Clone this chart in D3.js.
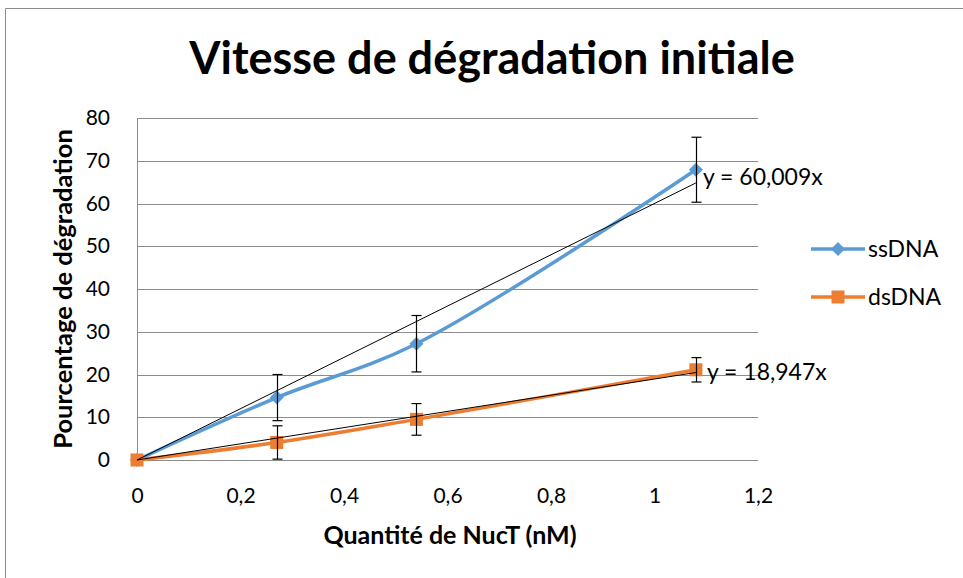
<!DOCTYPE html>
<html>
<head>
<meta charset="utf-8">
<script src="https://cdn.jsdelivr.net/npm/d3@7"></script>
<style>
  html, body { margin: 0; padding: 0; background: #fff; }
  svg { display: block; }
  text { font-family: Lato, "Open Sans", sans-serif; fill: #000; }
</style>
</head>
<body>
<svg id="chart" width="963" height="578"></svg>
<script>
// Quantité de NucT (nM)
const doses = [0, 0.27, 0.54, 1.08];
// Pourcentage de dégradation, moyenne et écart-type
const ssDNA = [0, 14.6, 27.2, 67.9];
const ssDNAErr = [0, 5.4, 6.6, 7.6];
const dsDNA = [0, 4.1, 9.5, 21.1];
const dsDNAErr = [0, 3.9, 3.7, 2.85];
// Pentes des régressions linéaires passant par l'origine
const slopes = [60.009, 18.947];
const slopeLabels = ["y = 60,009x", "y = 18,947x"];
const seriesNames = ["ssDNA", "dsDNA"];
const colors = ["#5B9BD5", "#ED7D31"];
const xTicks = [0, 0.2, 0.4, 0.6, 0.8, 1, 1.2];
const yTicks = [0, 10, 20, 30, 40, 50, 60, 70, 80];

const svg = d3.select("#chart");
const plot = { left: 137, right: 758, top: 118, bottom: 460 };

const x = d3.scaleLinear().domain([0, 1.2]).range([plot.left, plot.right]);
const y = d3.scaleLinear().domain([0, 80]).range([plot.bottom, plot.top]);
const fmt = v => String(v).replace(".", ",");

// Cadre extérieur
svg.append("path")
  .attr("d", "M5.5,578 L5.5,8.5 L963,8.5")
  .attr("fill", "none").attr("stroke", "#8c8c8c").attr("stroke-width", 1);

// Titre
svg.append("text")
  .attr("x", 492).attr("y", 74)
  .attr("text-anchor", "middle")
  .attr("font-size", 45).attr("font-weight", 700)
  .text("Vitesse de dégradation initiale");

// Quadrillage horizontal
svg.append("g").selectAll("line").data(yTicks).join("line")
  .attr("x1", plot.left).attr("x2", plot.right)
  .attr("y1", d => Math.round(y(d)) + 0.5).attr("y2", d => Math.round(y(d)) + 0.5)
  .attr("stroke", "#8c8c8c").attr("stroke-width", 1);

// Axe vertical
svg.append("line")
  .attr("x1", plot.left + 0.5).attr("x2", plot.left + 0.5)
  .attr("y1", plot.top).attr("y2", plot.bottom)
  .attr("stroke", "#8c8c8c").attr("stroke-width", 1);

// Graduations Y
const yAxis = d3.axisLeft(y).tickValues(yTicks).tickSize(0).tickPadding(0).tickFormat(fmt);
const gy = svg.append("g").attr("transform", "translate(110,0)").call(yAxis);
gy.select(".domain").remove();
gy.selectAll("text").attr("font-size", 21).attr("font-family", "Lato, sans-serif").attr("fill", "#000");

// Graduations X
const xAxis = d3.axisBottom(x).tickValues(xTicks).tickSize(0).tickPadding(0).tickFormat(fmt);
const gx = svg.append("g").attr("transform", `translate(0,${plot.bottom})`).call(xAxis);
gx.select(".domain").remove();
gx.selectAll("text").attr("font-size", 21).attr("font-family", "Lato, sans-serif").attr("fill", "#000")
  .attr("y", 43).attr("dy", 0);

// Titres des axes
svg.append("text")
  .attr("transform", `translate(72,${(plot.top + plot.bottom) / 2}) rotate(-90)`)
  .attr("text-anchor", "middle")
  .attr("font-size", 25.5).attr("font-weight", 700)
  .text("Pourcentage de dégradation");

svg.append("text")
  .attr("x", 450).attr("y", 544)
  .attr("text-anchor", "middle")
  .attr("font-size", 25).attr("font-weight", 700)
  .text("Quantité de NucT (nM)");

const series = [
  { name: seriesNames[0], values: ssDNA, err: ssDNAErr, color: colors[0], symbol: d3.symbolDiamond2, size: 125 },
  { name: seriesNames[1], values: dsDNA, err: dsDNAErr, color: colors[1], symbol: d3.symbolSquare, size: 169 }
];

series.forEach(s => {
  const pts = doses.map((d, j) => ({ x: d, y: s.values[j] }));

  // Courbe lissée des mesures
  svg.append("path")
    .datum(pts)
    .attr("fill", "none")
    .attr("stroke", s.color)
    .attr("stroke-width", 3.5)
    .attr("stroke-linejoin", "round")
    .attr("d", d3.line().x(d => x(d.x)).y(d => y(d.y)).curve(d3.curveCatmullRom.alpha(0.5)));

  // Marqueurs
  svg.append("g").selectAll("path").data(pts).join("path")
    .attr("transform", d => `translate(${x(d.x)},${y(d.y)})`)
    .attr("d", d3.symbol().type(s.symbol).size(s.size))
    .attr("fill", s.color);
});

// Droites de régression
series.forEach((s, i) => {
  const xEnd = doses[doses.length - 1];
  svg.append("line")
    .attr("x1", x(0)).attr("y1", y(0))
    .attr("x2", x(xEnd)).attr("y2", y(slopes[i] * xEnd))
    .attr("stroke", "#000").attr("stroke-width", 1);
});

// Barres d'erreur
series.forEach(s => {
  const pts = doses.map((d, j) => ({ x: d, y: s.values[j], e: s.err[j] })).filter(d => d.e > 0);
  const g = svg.append("g").attr("stroke", "#000").attr("stroke-width", 1.2);
  pts.forEach(d => {
    const cx = Math.round(x(d.x)) + 0.5;
    const lo = Math.max(0, d.y - d.e), hi = d.y + d.e;
    g.append("line").attr("x1", cx).attr("x2", cx).attr("y1", y(hi)).attr("y2", y(lo));
    [hi, lo].forEach(v => {
      g.append("line").attr("x1", cx - 5).attr("x2", cx + 5).attr("y1", y(v)).attr("y2", y(v));
    });
  });
});

// Équations des régressions
const eqPos = [{ dx: 7, dy: 15 }, { dx: 11, dy: 10 }];
series.forEach((s, i) => {
  const lastX = doses[doses.length - 1];
  const lastY = s.values[s.values.length - 1];
  svg.append("text")
    .attr("x", x(lastX) + eqPos[i].dx)
    .attr("y", y(lastY) + eqPos[i].dy)
    .attr("font-size", 23)
    .text(slopeLabels[i]);
});

// Légende
const legend = svg.append("g");
series.forEach((s, i) => {
  const ly = 249 + i * 48;
  legend.append("line")
    .attr("x1", 811).attr("x2", 865).attr("y1", ly).attr("y2", ly)
    .attr("stroke", s.color).attr("stroke-width", 3.5);
  legend.append("path")
    .attr("transform", `translate(838,${ly})`)
    .attr("d", d3.symbol().type(s.symbol).size(s.size))
    .attr("fill", s.color);
  legend.append("text")
    .attr("x", 868).attr("y", ly + 8)
    .attr("font-size", 23)
    .text(s.name);
});
</script>
</body>
</html>
